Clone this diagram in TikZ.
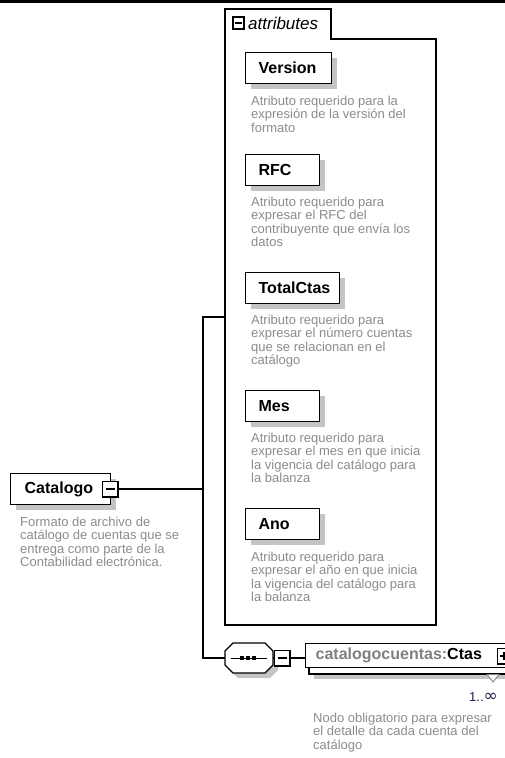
\documentclass[tikz,border=0pt]{standalone}
\usepackage{fontspec}
\setmainfont{Liberation Sans}
\newfontfamily\symfont{DejaVu Sans}
\usetikzlibrary{shadows}
\definecolor{desc}{RGB}{140,140,140}
\definecolor{shad}{RGB}{196,196,196}
\definecolor{occ}{RGB}{30,30,80}
\definecolor{prefix}{RGB}{128,128,128}
\begin{document}
\begin{tikzpicture}[x=1pt,y=-1pt,
  boxbase/.style={draw, line width=1.3pt, fill=white, anchor=north west, inner xsep=13pt, inner ysep=0pt,
    minimum height=31pt, align=left, font=\fontsize{16}{16}\selectfont\bfseries},
  elbox/.style={boxbase, drop shadow={shadow xshift=5pt, shadow yshift=-5pt, fill=shad, opacity=1}},
  desctext/.style={anchor=north west, inner sep=0pt, align=left, text=desc, font=\fontsize{13}{13.5}\selectfont},
  frame/.style={line width=1.2pt},
  conn/.style={line width=1.2pt},
  togglebox/.style={draw, line width=1pt, fill=white, minimum width=15pt, minimum height=15pt, inner sep=0pt},
  thickedge/.style={line width=1.8pt}
]
\useasboundingbox (0,0) rectangle (505,758);
\clip (0,0) rectangle (505,758);
\fill[white] (0,0) rectangle (505,758);
\fill[black] (0,0) rectangle (505,3);

% attributes frame
\draw[frame] (225,625) -- (225,9) -- (331,9) -- (331,39) -- (436,39) -- (436,625) -- cycle;
\node[draw, line width=1.8pt, fill=white, minimum width=11.5pt, minimum height=12.5pt, inner sep=0pt] (attrmin) at (238.5,23) {\rule{7pt}{1.4pt}};
\node[anchor=base west, font=\fontsize{17}{17}\selectfont\itshape, inner sep=0pt] (attrlabel) at (248,29.5) {attributes};

% attribute boxes
\node[elbox, text width=60pt] (version) at (245,52) {Version};
\node[desctext] (versiond) at (251,94) {\rule{0pt}{11pt}Atributo requerido para la\\expresión de la versión del\\formato};

\node[elbox, text width=48pt] (rfc) at (245,154) {RFC};
\node[desctext] (rfcd) at (251,195) {\rule{0pt}{11pt}Atributo requerido para\\expresar el RFC del\\contribuyente que envía los\\datos};

\node[elbox, text width=68pt] (totalctas) at (245,272) {TotalCtas};
\node[desctext] (totalctasd) at (251,313) {\rule{0pt}{11pt}Atributo requerido para\\expresar el número cuentas\\que se relacionan en el\\catálogo};

\node[elbox, text width=48pt] (mes) at (245,390) {Mes};
\node[desctext] (mesd) at (251,431) {\rule{0pt}{11pt}Atributo requerido para\\expresar el mes en que inicia\\la vigencia del catálogo para\\la balanza};

\node[elbox, text width=48pt] (ano) at (245,508) {Ano};
\node[desctext] (anod) at (251,550) {\rule{0pt}{11pt}Atributo requerido para\\expresar el año en que inicia\\la vigencia del catálogo para\\la balanza};

% Catalogo
\node[elbox, text width=72pt, inner xsep=14pt] (catalogo) at (10,473) {Catalogo};
\node[togglebox] (catmin) at (110,489) {\rule{9pt}{1.2pt}};
\draw[thickedge] (catmin.north east) -- (catmin.south east) -- (catmin.south west);
\node[desctext] (catalogod) at (20,515) {\rule{0pt}{11pt}Formato de archivo de\\catálogo de cuentas que se\\entrega como parte de la\\Contabilidad electrónica.};

% sequence compositor
\fill[shad, shift={(5,5)}] (233,643) -- (265,643) -- (273,651) -- (273,665) -- (265,673) -- (233,673) -- (225,665) -- (225,651) -- cycle;
\draw[frame, fill=white] (233,643) -- (265,643) -- (273,651) -- (273,665) -- (265,673) -- (233,673) -- (225,665) -- (225,651) -- cycle;
\draw[line width=1pt] (231,658) -- (267,658);
\foreach \cx in {242,248,254} \fill (\cx-1.8,656.2) rectangle (\cx+1.8,659.8);
\coordinate (seqL) at (225,658);
\coordinate (seqR) at (273,658);
\node[togglebox] (seqmin) at (282,658) {\rule{9pt}{1.2pt}};
\draw[thickedge] (seqmin.north east) -- (seqmin.south east) -- (seqmin.south west);

% Ctas element (multiple)
\fill[shad] (314,654) rectangle (530,679);
\draw[frame, fill=white] (309,649) rectangle (530,674);
\node[boxbase, minimum height=24pt, text width=190pt, inner xsep=10pt] (ctas) at (305,643) {\textcolor{prefix}{catalogocuentas:}Ctas};
\node[togglebox, minimum width=13pt] (ctasplus) at (504,656) {\rule{8pt}{1.2pt}};
\draw[line width=1.2pt] (504,652) -- (504,660);
\draw[thickedge] (ctasplus.south west) -- (ctasplus.south east);
\draw[line width=0.8pt, draw=gray, fill=white] (487,674.5) -- (499,674.5) -- (493,682) -- cycle;
\node[anchor=base east, inner sep=0pt, text=occ, font=\fontsize{13}{13}\selectfont] (occurs) at (498,701) {1..{\symfont\fontsize{17}{17}\selectfont ∞}};
\node[desctext] (ctasd) at (313,711) {\rule{0pt}{11pt}Nodo obligatorio para expresar\\el detalle da cada cuenta del\\catálogo};

% connectors
\coordinate (attrL) at (225,317);
\coordinate (jtop) at (203,317);
\coordinate (jbot) at (203,658);
\draw[conn] (attrL) -- (jtop) -- (jbot) -- (seqL);
\draw[conn] (catmin.east) -- (catmin.east -| jtop);
\draw[conn] (seqR) -- (seqmin.west);
\draw[conn] (seqmin.east) -- (seqmin.east -| ctas.west);
\end{tikzpicture}
\end{document}
